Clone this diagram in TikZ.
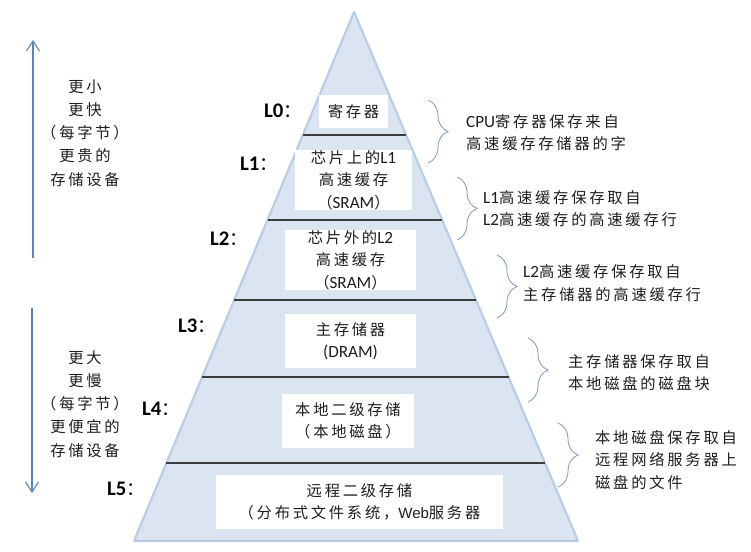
\documentclass[tikz,border=0pt]{standalone}
\usepackage{fontspec}
\setmainfont{Noto Sans CJK SC}[LetterSpace=18]
\newfontfamily\latinf{Carlito}[Scale=1.12]
\newfontfamily\arialf{Liberation Sans}[Scale=0.98]
\newfontfamily\cjkplain{Noto Sans CJK SC}
\newcommand\lt[1]{{\latinf #1}}
\usetikzlibrary{decorations.pathreplacing,arrows.meta,calc}
\definecolor{trifill}{HTML}{DBE5F1}
\definecolor{triedge}{HTML}{B9CDE5}
\definecolor{arrowc}{HTML}{5A86BC}
\definecolor{bracec}{HTML}{7F9AC0}
\definecolor{layerline}{HTML}{3C3C3C}
\definecolor{txt}{HTML}{1E1E1E}
\begin{document}
\begin{tikzpicture}[x=1pt,y=-1pt,
  every node/.style={font=\fontsize{15.3}{22.5}\selectfont, text=txt},
  levelbox/.style={fill=white, inner sep=0pt, align=center},
  levellabel/.style={font=\fontsize{18.5}{22}\selectfont\latinf\bfseries, text=black, inner sep=0pt},
  sidetext/.style={align=center, inner sep=0pt, font=\fontsize{15.3}{23.2}\selectfont},
  desc/.style={align=left, anchor=west, inner sep=0pt},
  layer/.style={draw=layerline, line width=1.2pt},
  bracestyle/.style={draw=bracec, line width=0.8pt, decorate, decoration={brace, amplitude=20pt, aspect=0.5}},
  sidearrow/.style={draw=arrowc, line width=1.1pt, -{Straight Barb[length=10pt,width=13pt,line width=1.1pt]}}
]
\useasboundingbox (0,0) rectangle (751,551);
\fill[white] (0,0) rectangle (751,551);

% pyramid
\coordinate (apex) at (354,12);
\coordinate (bl) at (134,541);
\coordinate (br) at (578,541);
\filldraw[fill=trifill, draw=triedge, line width=2.2pt, line join=round] (apex) -- (bl) -- (br) -- cycle;

% layer separators
\foreach \t/\n in {0.2325/1, 0.3932/2, 0.5444/3, 0.6900/4, 0.8526/5} {
  \coordinate (sl\n) at ($(apex)!\t!(bl)$);
  \coordinate (sr\n) at ($(apex)!\t!(br)$);
}
\foreach \n in {1,...,5} { \draw[layer] (sl\n) -- (sr\n); }

% level boxes
\node[levelbox, minimum width=69pt, minimum height=33pt] (b0) at (353.5,111.5) {寄存器};
\node[levelbox, minimum width=117pt, minimum height=54pt] (b1) at (353.5,180) {芯片上的\lt{L1}\\高速缓存\\（\lt{SRAM}）};
\node[levelbox, minimum width=131pt, minimum height=54pt] (b2) at (350.5,260) {芯片外的\lt{L2}\\高速缓存\\（\lt{SRAM}）};
\node[levelbox, minimum width=131pt, minimum height=54pt] (b3) at (350.5,341) {主存储器\\\lt{(DRAM)}};
\node[levelbox, minimum width=132pt, minimum height=54pt] (b4) at (348,421) {本地二级存储\\（本地磁盘）};
\node[levelbox, minimum width=287pt, minimum height=54pt] (b5) at (359.5,502) {远程二级存储\\（分布式文件系统，{\arialf Web}服务器};

% level labels
\node[levellabel] (l0) at (283,111) {L0{\mdseries\cjkplain ：}};
\node[levellabel] (l1) at (259,164) {L1{\mdseries\cjkplain ：}};
\node[levellabel] (l2) at (229,239) {L2{\mdseries\cjkplain ：}};
\node[levellabel] (l3) at (197,326) {L3{\mdseries\cjkplain ：}};
\node[levellabel] (l4) at (161,409) {L4{\mdseries\cjkplain ：}};
\node[levellabel] (l5) at (126,489) {L5{\mdseries\cjkplain ：}};

% braces
\coordinate (c0t) at (428,100); \coordinate (c0b) at (428,163);
\coordinate (c1t) at (457,177); \coordinate (c1b) at (457,240);
\coordinate (c2t) at (497,255); \coordinate (c2b) at (497,318);
\coordinate (c3t) at (528,338); \coordinate (c3b) at (528,402);
\coordinate (c4t) at (558,423); \coordinate (c4b) at (558,487);
\foreach \n in {0,...,4} { \draw[bracestyle] (c\n t) -- (c\n b); }

% descriptions
\node[desc] (d0) at (466,132.5) {\lt{CPU}寄存器保存来自\\高速缓存存储器的字};
\node[desc] (d1) at (483,208.5) {\lt{L1}高速缓存保存取自\\\lt{L2}高速缓存的高速缓存行};
\node[desc] (d2) at (523,283) {\lt{L2}高速缓存保存取自\\主存储器的高速缓存行};
\node[desc] (d3) at (568,372.5) {主存储器保存取自\\本地磁盘的磁盘块};
\node[desc] (d4) at (595,460) {本地磁盘保存取自\\远程网络服务器上\\磁盘的文件};

% side arrows
\coordinate (upfrom) at (33,258); \coordinate (upto) at (33,40);
\coordinate (dnfrom) at (32,308); \coordinate (dnto) at (32,493);
\draw[sidearrow] (upfrom) -- (upto);
\draw[sidearrow] (dnfrom) -- (dnto);

\node[sidetext] (top) at (85,133) {更小\\更快\\（每字节）\\更贵的\\存储设备};
\node[sidetext] (bot) at (85,404) {更大\\更慢\\（每字节）\\更便宜的\\存储设备};
\end{tikzpicture}
\end{document}
